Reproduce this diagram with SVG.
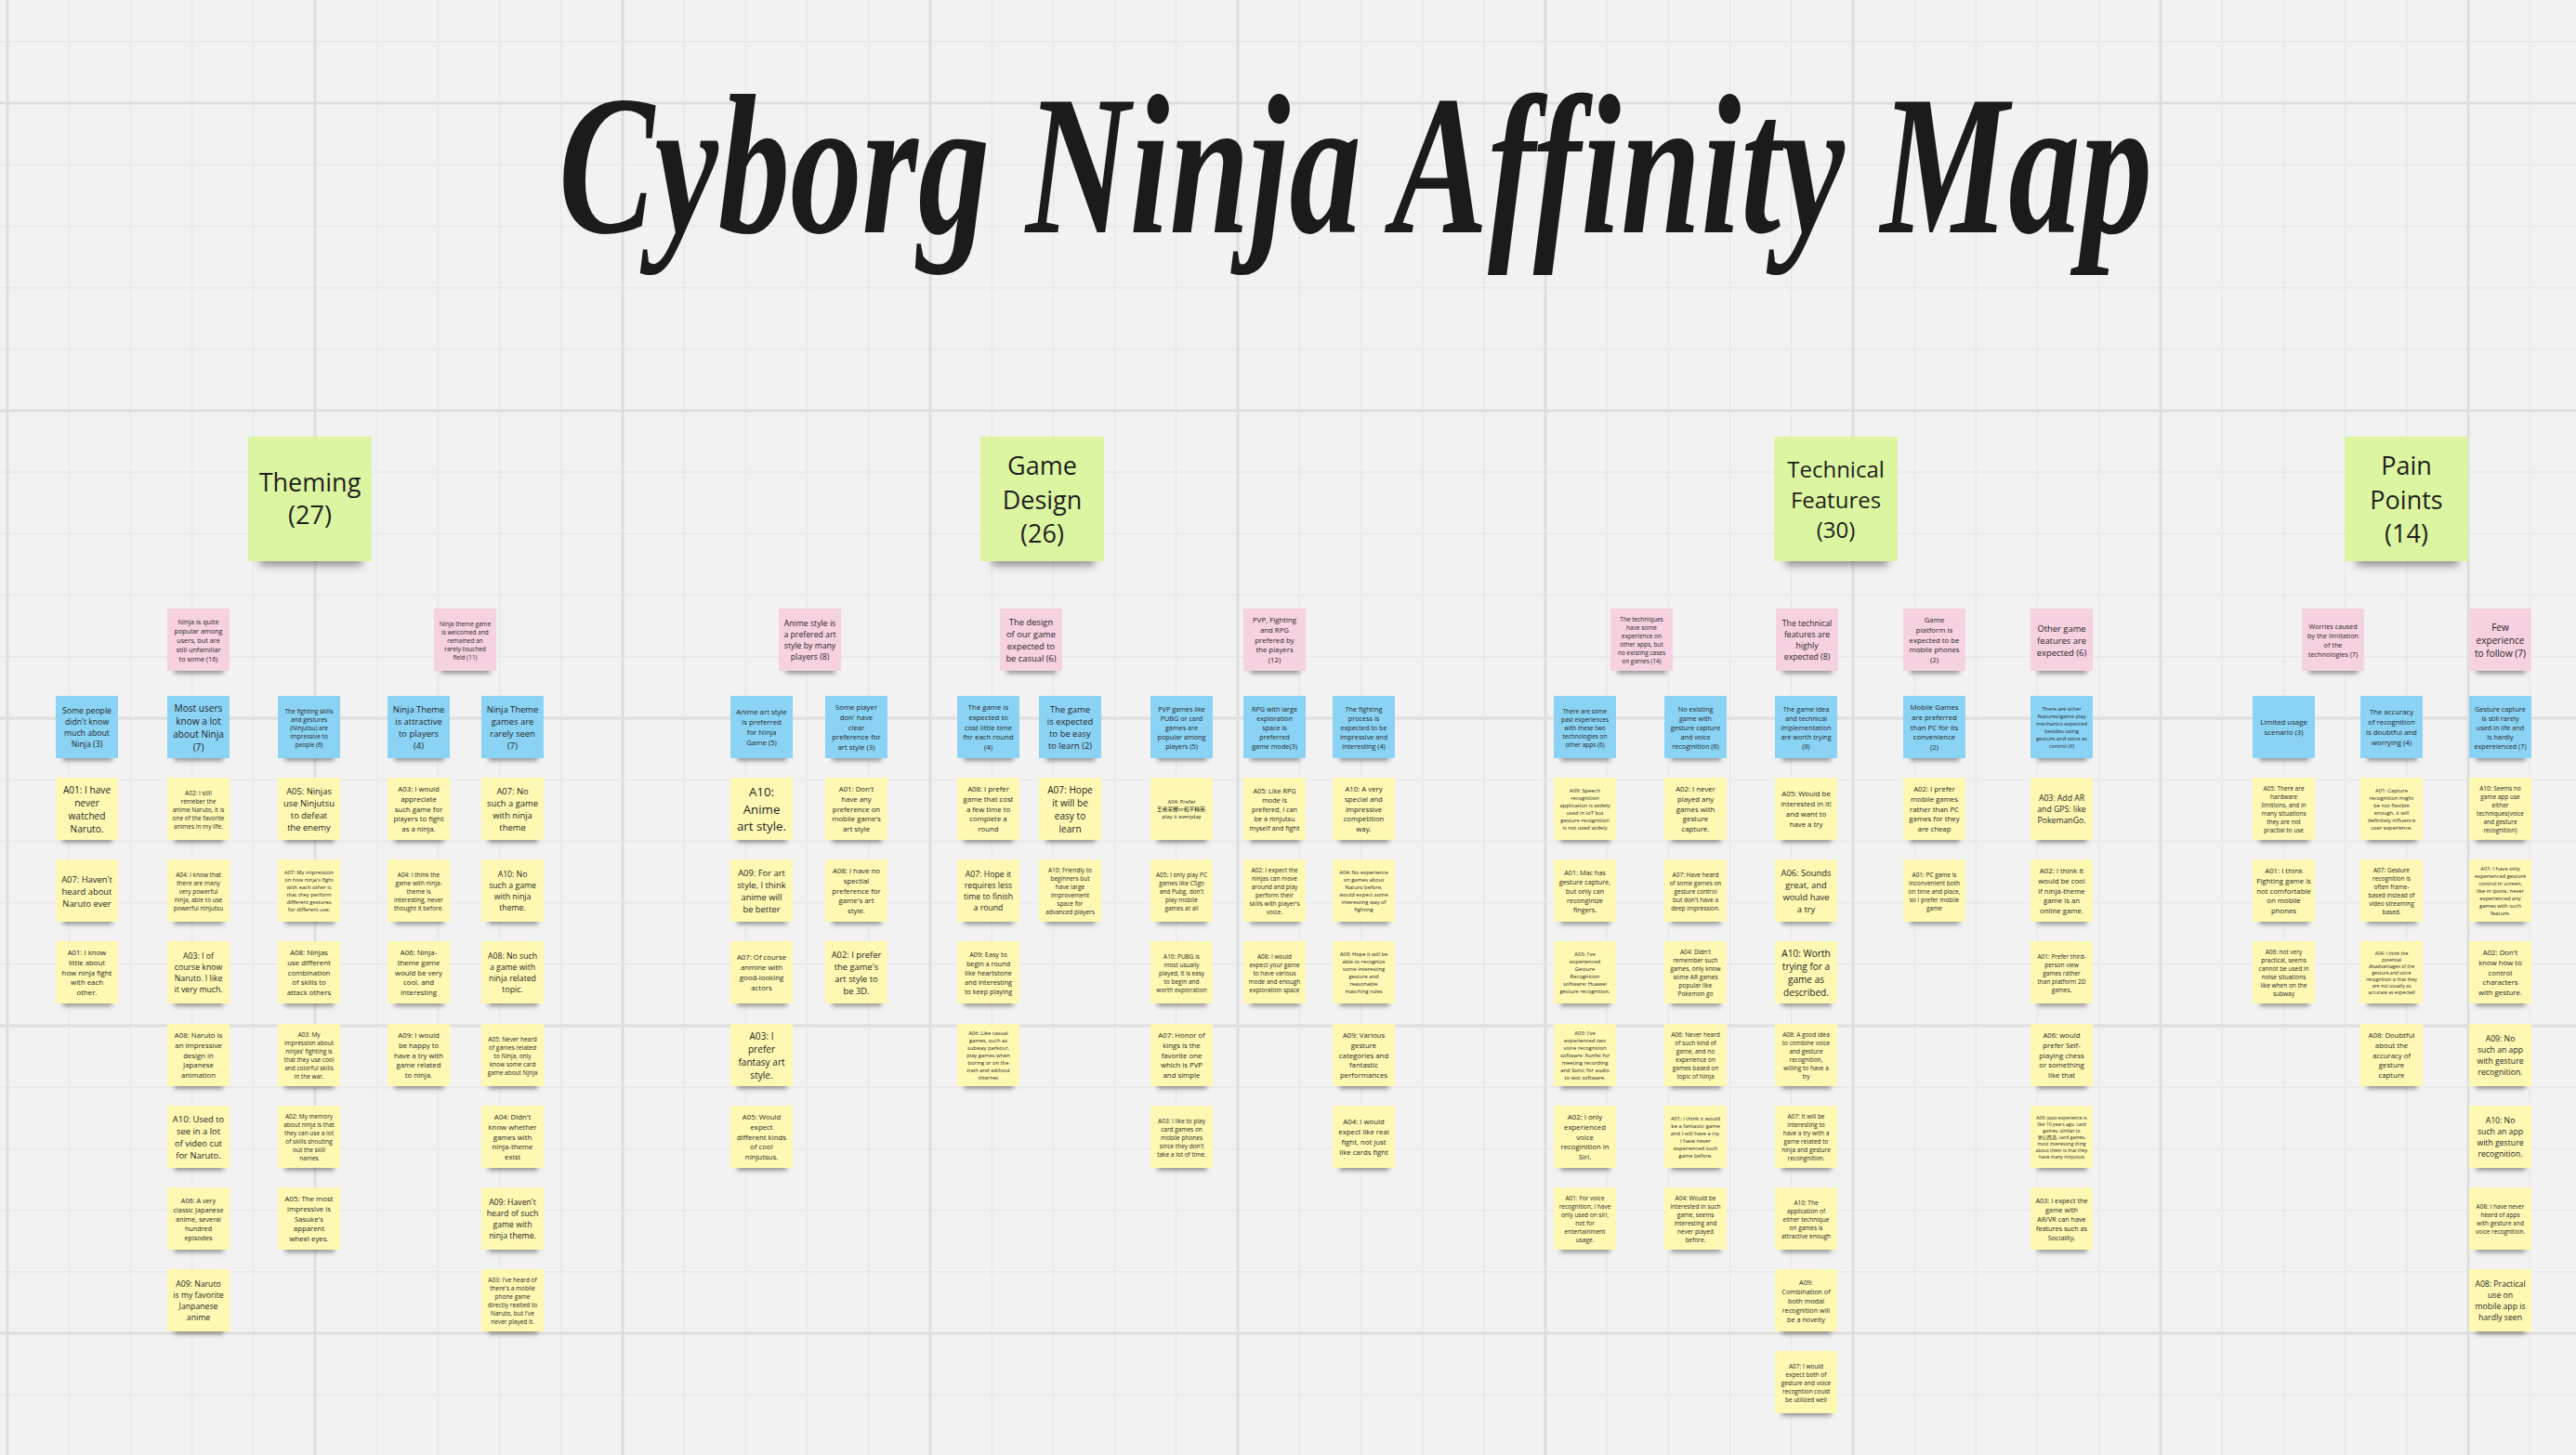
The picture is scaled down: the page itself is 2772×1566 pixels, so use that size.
<svg xmlns="http://www.w3.org/2000/svg" xmlns:xlink="http://www.w3.org/1999/xlink" width="2772" height="1566" viewBox="0 0 2772 1566">
<style>
text{font-family:"Open Sans","Noto Sans","Noto Sans CJK SC",sans-serif;text-anchor:middle;dominant-baseline:central;fill:#1f1f1f}
tspan{dominant-baseline:central}
.a{font-size:5.1px}.b{font-size:5.8px}.c{font-size:6.5px}.d{font-size:7.25px}.e{font-size:7.8px}.f{font-size:8.7px}.g{font-size:9.4px}.h{font-size:10.1px}.k{font-size:13.3px}
.hd{font-size:27px}.hd2{font-size:24px}
.title{font-family:"Liberation Serif",serif;font-style:italic;font-weight:bold;font-size:215px;fill:#1b1b1b;text-anchor:start;dominant-baseline:alphabetic}
.sh{fill:#3a3a3a;opacity:.5}
</style>
<defs>
<filter id="blur" x="-50%" y="-100%" width="200%" height="300%"><feGaussianBlur stdDeviation="2.5"/></filter>
<filter id="blur2" x="-50%" y="-100%" width="200%" height="300%"><feGaussianBlur stdDeviation="4"/></filter>
<pattern id="gm" x="7.25" y="110.25" width="66.2" height="66.2" patternUnits="userSpaceOnUse"><path d="M0.75 0V66.2M0 0.75H66.2" stroke="#e7e7e7" stroke-width="1.5" fill="none"/></pattern>
<pattern id="gM" x="6.5" y="109.5" width="331" height="331" patternUnits="userSpaceOnUse"><path d="M1.5 0V331M0 1.5H331" stroke="#dedede" stroke-width="3" fill="none"/></pattern>
<g id="Y"><rect class="sh" x="-26" y="59" width="53" height="11" filter="url(#blur)"/><rect x="-33.5" y="0" width="67" height="67" fill="#fef8b3"/></g>
<g id="B"><rect class="sh" x="-26" y="59" width="53" height="11" filter="url(#blur)"/><rect x="-33.5" y="0" width="67" height="67" fill="#8bd3f5"/></g>
<g id="P"><rect class="sh" x="-26" y="59" width="53" height="11" filter="url(#blur)"/><rect x="-33.5" y="0" width="67" height="67" fill="#f6d1e0"/></g>
<g id="H"><rect class="sh" x="-54" y="121" width="110" height="18" filter="url(#blur2)"/><rect x="-66.5" y="0" width="133" height="134" fill="#dcf5a0"/></g>
</defs>
<rect width="2772" height="1566" fill="#f2f2f2"/>
<rect width="2772" height="1566" fill="url(#gm)"/>
<rect width="2772" height="1566" fill="url(#gM)"/>
<text class="title" x="601" y="250" textLength="1715" lengthAdjust="spacingAndGlyphs">Cyborg Ninja Affinity Map</text>

<g id="headers">
<g id="hdr-theming" transform="translate(333.5,470)"><use href="#H"/><text class="hd" y="48"><tspan x="0">Theming</tspan><tspan x="0" dy="35">(27)</tspan></text></g>
<g id="hdr-game-design" transform="translate(1121.5,470)"><use href="#H"/><text class="hd" y="30"><tspan x="0">Game</tspan><tspan x="0" dy="36.5">Design</tspan><tspan x="0" dy="36.5">(26)</tspan></text></g>
<g id="hdr-technical" transform="translate(1975.5,470)"><use href="#H"/><text class="hd2" y="34"><tspan x="0">Technical</tspan><tspan x="0" dy="32.5">Features</tspan><tspan x="0" dy="32.5">(30)</tspan></text></g>
<g id="hdr-pain" transform="translate(2589.5,470)"><use href="#H"/><text class="hd" y="30"><tspan x="0">Pain</tspan><tspan x="0" dy="36.5">Points</tspan><tspan x="0" dy="36.5">(14)</tspan></text></g>
</g>

<g id="connectors"/>

<g id="theming">
<g id="th-p1" transform="translate(213.5,655)"><use href="#P"/><text class="d" y="13.5"><tspan x="0">Ninja is quite</tspan><tspan x="0" dy="10">popular among</tspan><tspan x="0" dy="10">users, but are</tspan><tspan x="0" dy="10">still unfamiliar</tspan><tspan x="0" dy="10">to some (16)</tspan></text></g>
<g id="th-p2" transform="translate(500.5,655)"><use href="#P"/><text class="c" y="15.5"><tspan x="0">Ninja theme game</tspan><tspan x="0" dy="9">is welcomed and</tspan><tspan x="0" dy="9">remained an</tspan><tspan x="0" dy="9">rarely-touched</tspan><tspan x="0" dy="9">field (11)</tspan></text></g>
<g id="th-b1" transform="translate(93.5,749)"><use href="#B"/><text class="f" y="15.5"><tspan x="0">Some people</tspan><tspan x="0" dy="12">didn't know</tspan><tspan x="0" dy="12">much about</tspan><tspan x="0" dy="12">Ninja (3)</tspan></text></g>
<g id="th-b2" transform="translate(213.5,749)"><use href="#B"/><text class="h" y="12.5"><tspan x="0">Most users</tspan><tspan x="0" dy="14">know a lot</tspan><tspan x="0" dy="14">about Ninja</tspan><tspan x="0" dy="14">(7)</tspan></text></g>
<g id="th-b3" transform="translate(332.5,749)"><use href="#B"/><text class="c" y="15.5"><tspan x="0">The fighting skills</tspan><tspan x="0" dy="9">and gestures</tspan><tspan x="0" dy="9">(Ninjutsu) are</tspan><tspan x="0" dy="9">impressive to</tspan><tspan x="0" dy="9">people (6)</tspan></text></g>
<g id="th-b4" transform="translate(450.5,749)"><use href="#B"/><text class="g" y="14"><tspan x="0">Ninja Theme</tspan><tspan x="0" dy="13">is attractive</tspan><tspan x="0" dy="13">to players</tspan><tspan x="0" dy="13">(4)</tspan></text></g>
<g id="th-b5" transform="translate(551.5,749)"><use href="#B"/><text class="g" y="14"><tspan x="0">Ninja Theme</tspan><tspan x="0" dy="13">games are</tspan><tspan x="0" dy="13">rarely seen</tspan><tspan x="0" dy="13">(7)</tspan></text></g>

<g id="th-1-1" transform="translate(93.5,837)"><use href="#Y"/><text class="h" y="12.5"><tspan x="0">A01: I have</tspan><tspan x="0" dy="14">never</tspan><tspan x="0" dy="14">watched</tspan><tspan x="0" dy="14">Naruto.</tspan></text></g>
<g id="th-1-2" transform="translate(93.5,925)"><use href="#Y"/><text class="g" y="20.5"><tspan x="0">A07: Haven't</tspan><tspan x="0" dy="13">heard about</tspan><tspan x="0" dy="13">Naruto ever</tspan></text></g>
<g id="th-1-3" transform="translate(93.5,1013)"><use href="#Y"/><text class="e" y="12.1"><tspan x="0">A01: I know</tspan><tspan x="0" dy="10.7">little about</tspan><tspan x="0" dy="10.7">how ninja fight</tspan><tspan x="0" dy="10.7">with each</tspan><tspan x="0" dy="10.7">other.</tspan></text></g>

<g id="th-2-1" transform="translate(213.5,837)"><use href="#Y"/><text class="c" y="15.5"><tspan x="0">A02: I still</tspan><tspan x="0" dy="9">remeber the</tspan><tspan x="0" dy="9">anime Naruto, it is</tspan><tspan x="0" dy="9">one of the favorite</tspan><tspan x="0" dy="9">animes in my life.</tspan></text></g>
<g id="th-2-2" transform="translate(213.5,925)"><use href="#Y"/><text class="c" y="15.5"><tspan x="0">A04: I know that</tspan><tspan x="0" dy="9">there are many</tspan><tspan x="0" dy="9">very powerful</tspan><tspan x="0" dy="9">ninja, able to use</tspan><tspan x="0" dy="9">powerful ninjutsu</tspan></text></g>
<g id="th-2-3" transform="translate(213.5,1013)"><use href="#Y"/><text class="f" y="15.5"><tspan x="0">A03: I of</tspan><tspan x="0" dy="12">course know</tspan><tspan x="0" dy="12">Naruto. I like</tspan><tspan x="0" dy="12">it very much.</tspan></text></g>
<g id="th-2-4" transform="translate(213.5,1102)"><use href="#Y"/><text class="e" y="12.1"><tspan x="0">A08: Naruto is</tspan><tspan x="0" dy="10.7">an impressive</tspan><tspan x="0" dy="10.7">design in</tspan><tspan x="0" dy="10.7">Japanese</tspan><tspan x="0" dy="10.7">animation</tspan></text></g>
<g id="th-2-5" transform="translate(213.5,1190)"><use href="#Y"/><text class="g" y="14"><tspan x="0">A10: Used to</tspan><tspan x="0" dy="13">see in a lot</tspan><tspan x="0" dy="13">of video cut</tspan><tspan x="0" dy="13">for Naruto.</tspan></text></g>
<g id="th-2-6" transform="translate(213.5,1278)"><use href="#Y"/><text class="d" y="13.5"><tspan x="0">A06: A very</tspan><tspan x="0" dy="10">classic Japanese</tspan><tspan x="0" dy="10">anime, several</tspan><tspan x="0" dy="10">hundred</tspan><tspan x="0" dy="10">episodes</tspan></text></g>
<g id="th-2-7" transform="translate(213.5,1366)"><use href="#Y"/><text class="f" y="15.5"><tspan x="0">A09: Naruto</tspan><tspan x="0" dy="12">is my favorite</tspan><tspan x="0" dy="12">Janpanese</tspan><tspan x="0" dy="12">anime</tspan></text></g>

<g id="th-3-1" transform="translate(332.5,837)"><use href="#Y"/><text class="g" y="14"><tspan x="0">A05: Ninjas</tspan><tspan x="0" dy="13">use Ninjutsu</tspan><tspan x="0" dy="13">to defeat</tspan><tspan x="0" dy="13">the enemy</tspan></text></g>
<g id="th-3-2" transform="translate(332.5,925)"><use href="#Y"/><text class="b" y="13.5"><tspan x="0">A07: My impression</tspan><tspan x="0" dy="8">on how ninja's fight</tspan><tspan x="0" dy="8">with each other is</tspan><tspan x="0" dy="8">that they perform</tspan><tspan x="0" dy="8">different gestures</tspan><tspan x="0" dy="8">for different use.</tspan></text></g>
<g id="th-3-3" transform="translate(332.5,1013)"><use href="#Y"/><text class="e" y="12.1"><tspan x="0">A08: Ninjas</tspan><tspan x="0" dy="10.7">use different</tspan><tspan x="0" dy="10.7">combination</tspan><tspan x="0" dy="10.7">of skills to</tspan><tspan x="0" dy="10.7">attack others</tspan></text></g>
<g id="th-3-4" transform="translate(332.5,1102)"><use href="#Y"/><text class="c" y="11"><tspan x="0">A03: My</tspan><tspan x="0" dy="9">impression about</tspan><tspan x="0" dy="9">ninjas' fighting is</tspan><tspan x="0" dy="9">that they use cool</tspan><tspan x="0" dy="9">and colorful skills</tspan><tspan x="0" dy="9">in the war.</tspan></text></g>
<g id="th-3-5" transform="translate(332.5,1190)"><use href="#Y"/><text class="c" y="11"><tspan x="0">A02: My memory</tspan><tspan x="0" dy="9">about ninja is that</tspan><tspan x="0" dy="9">they can use a lot</tspan><tspan x="0" dy="9">of skills shouting</tspan><tspan x="0" dy="9">out the skill</tspan><tspan x="0" dy="9">names</tspan></text></g>
<g id="th-3-6" transform="translate(332.5,1278)"><use href="#Y"/><text class="e" y="12.1"><tspan x="0">A05: The most</tspan><tspan x="0" dy="10.7">impressive is</tspan><tspan x="0" dy="10.7">Sasuke's</tspan><tspan x="0" dy="10.7">apparent</tspan><tspan x="0" dy="10.7">wheel eyes.</tspan></text></g>

<g id="th-4-1" transform="translate(450.5,837)"><use href="#Y"/><text class="e" y="12.1"><tspan x="0">A03: I would</tspan><tspan x="0" dy="10.7">appreciate</tspan><tspan x="0" dy="10.7">such game for</tspan><tspan x="0" dy="10.7">players to fight</tspan><tspan x="0" dy="10.7">as a ninja.</tspan></text></g>
<g id="th-4-2" transform="translate(450.5,925)"><use href="#Y"/><text class="c" y="15.5"><tspan x="0">A04: I think the</tspan><tspan x="0" dy="9">game with ninja-</tspan><tspan x="0" dy="9">theme is</tspan><tspan x="0" dy="9">interesting, never</tspan><tspan x="0" dy="9">thought it before.</tspan></text></g>
<g id="th-4-3" transform="translate(450.5,1013)"><use href="#Y"/><text class="e" y="12.1"><tspan x="0">A06: Ninja-</tspan><tspan x="0" dy="10.7">theme game</tspan><tspan x="0" dy="10.7">would be very</tspan><tspan x="0" dy="10.7">cool, and</tspan><tspan x="0" dy="10.7">interesting</tspan></text></g>
<g id="th-4-4" transform="translate(450.5,1102)"><use href="#Y"/><text class="e" y="12.1"><tspan x="0">A09: I would</tspan><tspan x="0" dy="10.7">be happy to</tspan><tspan x="0" dy="10.7">have a try with</tspan><tspan x="0" dy="10.7">game related</tspan><tspan x="0" dy="10.7">to ninja.</tspan></text></g>

<g id="th-5-1" transform="translate(551.5,837)"><use href="#Y"/><text class="g" y="14"><tspan x="0">A07: No</tspan><tspan x="0" dy="13">such a game</tspan><tspan x="0" dy="13">with ninja</tspan><tspan x="0" dy="13">theme</tspan></text></g>
<g id="th-5-2" transform="translate(551.5,925)"><use href="#Y"/><text class="f" y="15.5"><tspan x="0">A10: No</tspan><tspan x="0" dy="12">such a game</tspan><tspan x="0" dy="12">with ninja</tspan><tspan x="0" dy="12">theme.</tspan></text></g>
<g id="th-5-3" transform="translate(551.5,1013)"><use href="#Y"/><text class="f" y="15.5"><tspan x="0">A08: No such</tspan><tspan x="0" dy="12">a game with</tspan><tspan x="0" dy="12">ninja related</tspan><tspan x="0" dy="12">topic.</tspan></text></g>
<g id="th-5-4" transform="translate(551.5,1102)"><use href="#Y"/><text class="c" y="15.5"><tspan x="0">A05: Never heard</tspan><tspan x="0" dy="9">of games related</tspan><tspan x="0" dy="9">to Ninja, only</tspan><tspan x="0" dy="9">know some card</tspan><tspan x="0" dy="9">game about Njnja</tspan></text></g>
<g id="th-5-5" transform="translate(551.5,1190)"><use href="#Y"/><text class="e" y="12.1"><tspan x="0">A04: Didn't</tspan><tspan x="0" dy="10.7">know whether</tspan><tspan x="0" dy="10.7">games with</tspan><tspan x="0" dy="10.7">ninja-theme</tspan><tspan x="0" dy="10.7">exist</tspan></text></g>
<g id="th-5-6" transform="translate(551.5,1278)"><use href="#Y"/><text class="f" y="15.5"><tspan x="0">A09: Haven't</tspan><tspan x="0" dy="12">heard of such</tspan><tspan x="0" dy="12">game with</tspan><tspan x="0" dy="12">ninja theme.</tspan></text></g>
<g id="th-5-7" transform="translate(551.5,1366)"><use href="#Y"/><text class="c" y="11"><tspan x="0">A03: I've heard of</tspan><tspan x="0" dy="9">there's a mobile</tspan><tspan x="0" dy="9">phone game</tspan><tspan x="0" dy="9">directly realted to</tspan><tspan x="0" dy="9">Naruto, but I've</tspan><tspan x="0" dy="9">never played it.</tspan></text></g>
</g>

<g id="game-design">
<g id="gd-p1" transform="translate(871.5,655)"><use href="#P"/><text class="f" y="15.5"><tspan x="0">Anime style is</tspan><tspan x="0" dy="12">a prefered art</tspan><tspan x="0" dy="12">style by many</tspan><tspan x="0" dy="12">players (8)</tspan></text></g>
<g id="gd-p2" transform="translate(1109.5,655)"><use href="#P"/><text class="g" y="14"><tspan x="0">The design</tspan><tspan x="0" dy="13">of our game</tspan><tspan x="0" dy="13">expected to</tspan><tspan x="0" dy="13">be casual (6)</tspan></text></g>
<g id="gd-p3" transform="translate(1371.5,655)"><use href="#P"/><text class="e" y="12.1"><tspan x="0">PVP, Fighting</tspan><tspan x="0" dy="10.7">and RPG</tspan><tspan x="0" dy="10.7">prefered by</tspan><tspan x="0" dy="10.7">the players</tspan><tspan x="0" dy="10.7">(12)</tspan></text></g>

<g id="gd-b1" transform="translate(819.5,749)"><use href="#B"/><text class="e" y="17.45"><tspan x="0">Anime art style</tspan><tspan x="0" dy="10.7">is preferred</tspan><tspan x="0" dy="10.7">for Ninja</tspan><tspan x="0" dy="10.7">Game (5)</tspan></text></g>
<g id="gd-b2" transform="translate(921.5,749)"><use href="#B"/><text class="e" y="12.1"><tspan x="0">Some player</tspan><tspan x="0" dy="10.7">don' have</tspan><tspan x="0" dy="10.7">clear</tspan><tspan x="0" dy="10.7">preference for</tspan><tspan x="0" dy="10.7">art style (3)</tspan></text></g>
<g id="gd-b3" transform="translate(1063.5,749)"><use href="#B"/><text class="e" y="12.1"><tspan x="0">The game is</tspan><tspan x="0" dy="10.7">expected to</tspan><tspan x="0" dy="10.7">cost little time</tspan><tspan x="0" dy="10.7">for each round</tspan><tspan x="0" dy="10.7">(4)</tspan></text></g>
<g id="gd-b4" transform="translate(1151.5,749)"><use href="#B"/><text class="g" y="14"><tspan x="0">The game</tspan><tspan x="0" dy="13">is expected</tspan><tspan x="0" dy="13">to be easy</tspan><tspan x="0" dy="13">to learn (2)</tspan></text></g>
<g id="gd-b5" transform="translate(1271.5,749)"><use href="#B"/><text class="d" y="13.5"><tspan x="0">PVP games like</tspan><tspan x="0" dy="10">PUBG or card</tspan><tspan x="0" dy="10">games are</tspan><tspan x="0" dy="10">popular among</tspan><tspan x="0" dy="10">players (5)</tspan></text></g>
<g id="gd-b6" transform="translate(1371.5,749)"><use href="#B"/><text class="d" y="13.5"><tspan x="0">RPG with large</tspan><tspan x="0" dy="10">exploration</tspan><tspan x="0" dy="10">space is</tspan><tspan x="0" dy="10">preferred</tspan><tspan x="0" dy="10">game mode(3)</tspan></text></g>
<g id="gd-b7" transform="translate(1467.5,749)"><use href="#B"/><text class="d" y="13.5"><tspan x="0">The fighting</tspan><tspan x="0" dy="10">process is</tspan><tspan x="0" dy="10">expected to be</tspan><tspan x="0" dy="10">impressive and</tspan><tspan x="0" dy="10">interesting (4)</tspan></text></g>

<g id="gd-1-1" transform="translate(819.5,837)"><use href="#Y"/><text class="k" y="15.2"><tspan x="0">A10:</tspan><tspan x="0" dy="18.3">Anime</tspan><tspan x="0" dy="18.3">art style.</tspan></text></g>
<g id="gd-1-2" transform="translate(819.5,925)"><use href="#Y"/><text class="g" y="14"><tspan x="0">A09: For art</tspan><tspan x="0" dy="13">style, I think</tspan><tspan x="0" dy="13">anime will</tspan><tspan x="0" dy="13">be better</tspan></text></g>
<g id="gd-1-3" transform="translate(819.5,1013)"><use href="#Y"/><text class="e" y="17.45"><tspan x="0">A07: Of course</tspan><tspan x="0" dy="10.7">anmine with</tspan><tspan x="0" dy="10.7">good-looking</tspan><tspan x="0" dy="10.7">actors</tspan></text></g>
<g id="gd-1-4" transform="translate(819.5,1102)"><use href="#Y"/><text class="h" y="12.5"><tspan x="0">A03: I</tspan><tspan x="0" dy="14">prefer</tspan><tspan x="0" dy="14">fantasy art</tspan><tspan x="0" dy="14">style.</tspan></text></g>
<g id="gd-1-5" transform="translate(819.5,1190)"><use href="#Y"/><text class="e" y="12.1"><tspan x="0">A05: Would</tspan><tspan x="0" dy="10.7">expect</tspan><tspan x="0" dy="10.7">different kinds</tspan><tspan x="0" dy="10.7">of cool</tspan><tspan x="0" dy="10.7">ninjutsus.</tspan></text></g>

<g id="gd-2-1" transform="translate(921.5,837)"><use href="#Y"/><text class="e" y="12.1"><tspan x="0">A01: Don't</tspan><tspan x="0" dy="10.7">have any</tspan><tspan x="0" dy="10.7">preference on</tspan><tspan x="0" dy="10.7">mobile game's</tspan><tspan x="0" dy="10.7">art style</tspan></text></g>
<g id="gd-2-2" transform="translate(921.5,925)"><use href="#Y"/><text class="e" y="12.1"><tspan x="0">A08: I have no</tspan><tspan x="0" dy="10.7">spectial</tspan><tspan x="0" dy="10.7">preference for</tspan><tspan x="0" dy="10.7">game's art</tspan><tspan x="0" dy="10.7">style.</tspan></text></g>
<g id="gd-2-3" transform="translate(921.5,1013)"><use href="#Y"/><text class="g" y="14"><tspan x="0">A02: I prefer</tspan><tspan x="0" dy="13">the game's</tspan><tspan x="0" dy="13">art style to</tspan><tspan x="0" dy="13">be 3D.</tspan></text></g>

<g id="gd-3-1" transform="translate(1063.5,837)"><use href="#Y"/><text class="e" y="12.1"><tspan x="0">A08: I prefer</tspan><tspan x="0" dy="10.7">game that cost</tspan><tspan x="0" dy="10.7">a few time to</tspan><tspan x="0" dy="10.7">complete a</tspan><tspan x="0" dy="10.7">round</tspan></text></g>
<g id="gd-3-2" transform="translate(1063.5,925)"><use href="#Y"/><text class="f" y="15.5"><tspan x="0">A07: Hope it</tspan><tspan x="0" dy="12">requires less</tspan><tspan x="0" dy="12">time to finish</tspan><tspan x="0" dy="12">a round</tspan></text></g>
<g id="gd-3-3" transform="translate(1063.5,1013)"><use href="#Y"/><text class="d" y="13.5"><tspan x="0">A09: Easy to</tspan><tspan x="0" dy="10">begin a round</tspan><tspan x="0" dy="10">like heartstone</tspan><tspan x="0" dy="10">and interesting</tspan><tspan x="0" dy="10">to keep playing</tspan></text></g>
<g id="gd-3-4" transform="translate(1063.5,1102)"><use href="#Y"/><text class="b" y="9.5"><tspan x="0">A06: Like casual</tspan><tspan x="0" dy="8">games, such as</tspan><tspan x="0" dy="8">subway parkour,</tspan><tspan x="0" dy="8">play games when</tspan><tspan x="0" dy="8">boring or on the</tspan><tspan x="0" dy="8">train and without</tspan><tspan x="0" dy="8">internet</tspan></text></g>

<g id="gd-4-1" transform="translate(1151.5,837)"><use href="#Y"/><text class="h" y="12.5"><tspan x="0">A07: Hope</tspan><tspan x="0" dy="14">it will be</tspan><tspan x="0" dy="14">easy to</tspan><tspan x="0" dy="14">learn</tspan></text></g>
<g id="gd-4-2" transform="translate(1151.5,925)"><use href="#Y"/><text class="c" y="11"><tspan x="0">A10: Friendly to</tspan><tspan x="0" dy="9">beginners but</tspan><tspan x="0" dy="9">have large</tspan><tspan x="0" dy="9">improvement</tspan><tspan x="0" dy="9">space for</tspan><tspan x="0" dy="9">advanced players</tspan></text></g>

<g id="gd-5-1" transform="translate(1271.5,837)"><use href="#Y"/><text class="b" y="25.5"><tspan x="0">A04: Prefer</tspan><tspan x="0" dy="8">王者荣耀or和平精英,</tspan><tspan x="0" dy="8">play it everyday</tspan></text></g>
<g id="gd-5-2" transform="translate(1271.5,925)"><use href="#Y"/><text class="c" y="15.5"><tspan x="0">A05: I only play PC</tspan><tspan x="0" dy="9">games like CSgo</tspan><tspan x="0" dy="9">and Pubg, don't</tspan><tspan x="0" dy="9">play mobile</tspan><tspan x="0" dy="9">games at all</tspan></text></g>
<g id="gd-5-3" transform="translate(1271.5,1013)"><use href="#Y"/><text class="c" y="15.5"><tspan x="0">A10: PUBG is</tspan><tspan x="0" dy="9">most usually</tspan><tspan x="0" dy="9">played, it is easy</tspan><tspan x="0" dy="9">to begin and</tspan><tspan x="0" dy="9">worth exploration</tspan></text></g>
<g id="gd-5-4" transform="translate(1271.5,1102)"><use href="#Y"/><text class="e" y="12.1"><tspan x="0">A07: Honor of</tspan><tspan x="0" dy="10.7">kings is the</tspan><tspan x="0" dy="10.7">favorite one</tspan><tspan x="0" dy="10.7">which is PVP</tspan><tspan x="0" dy="10.7">and simple</tspan></text></g>
<g id="gd-5-5" transform="translate(1271.5,1190)"><use href="#Y"/><text class="c" y="15.5"><tspan x="0">A03: I like to play</tspan><tspan x="0" dy="9">card games on</tspan><tspan x="0" dy="9">mobile phones</tspan><tspan x="0" dy="9">since they don't</tspan><tspan x="0" dy="9">take a lot of time.</tspan></text></g>

<g id="gd-6-1" transform="translate(1371.5,837)"><use href="#Y"/><text class="d" y="13.5"><tspan x="0">A05: Like RPG</tspan><tspan x="0" dy="10">mode is</tspan><tspan x="0" dy="10">prefered, I can</tspan><tspan x="0" dy="10">be a ninjutsu</tspan><tspan x="0" dy="10">myself and fight</tspan></text></g>
<g id="gd-6-2" transform="translate(1371.5,925)"><use href="#Y"/><text class="c" y="11"><tspan x="0">A02: I expect the</tspan><tspan x="0" dy="9">ninjas can move</tspan><tspan x="0" dy="9">around and play</tspan><tspan x="0" dy="9">perform their</tspan><tspan x="0" dy="9">skills with player's</tspan><tspan x="0" dy="9">voice.</tspan></text></g>
<g id="gd-6-3" transform="translate(1371.5,1013)"><use href="#Y"/><text class="c" y="15.5"><tspan x="0">A08: I would</tspan><tspan x="0" dy="9">expect your game</tspan><tspan x="0" dy="9">to have various</tspan><tspan x="0" dy="9">mode and enough</tspan><tspan x="0" dy="9">exploration space</tspan></text></g>

<g id="gd-7-1" transform="translate(1467.5,837)"><use href="#Y"/><text class="e" y="12.1"><tspan x="0">A10: A very</tspan><tspan x="0" dy="10.7">special and</tspan><tspan x="0" dy="10.7">impressive</tspan><tspan x="0" dy="10.7">competition</tspan><tspan x="0" dy="10.7">way.</tspan></text></g>
<g id="gd-7-2" transform="translate(1467.5,925)"><use href="#Y"/><text class="b" y="13.5"><tspan x="0">A04: No experience</tspan><tspan x="0" dy="8">on games about</tspan><tspan x="0" dy="8">Naturo before,</tspan><tspan x="0" dy="8">would expect some</tspan><tspan x="0" dy="8">interesting way of</tspan><tspan x="0" dy="8">fighting</tspan></text></g>
<g id="gd-7-3" transform="translate(1467.5,1013)"><use href="#Y"/><text class="b" y="13.5"><tspan x="0">A09: Hope it will be</tspan><tspan x="0" dy="8">able to recognize</tspan><tspan x="0" dy="8">some interesting</tspan><tspan x="0" dy="8">gesture and</tspan><tspan x="0" dy="8">reasonable</tspan><tspan x="0" dy="8">matching rules</tspan></text></g>
<g id="gd-7-4" transform="translate(1467.5,1102)"><use href="#Y"/><text class="e" y="12.1"><tspan x="0">A09: Various</tspan><tspan x="0" dy="10.7">gesture</tspan><tspan x="0" dy="10.7">categories and</tspan><tspan x="0" dy="10.7">fantastic</tspan><tspan x="0" dy="10.7">performances</tspan></text></g>
<g id="gd-7-5" transform="translate(1467.5,1190)"><use href="#Y"/><text class="e" y="17.45"><tspan x="0">A04: I would</tspan><tspan x="0" dy="10.7">expect like real</tspan><tspan x="0" dy="10.7">fight, not just</tspan><tspan x="0" dy="10.7">like cards fight</tspan></text></g>
</g>

<g id="technical-features">
<g id="tf-p1" transform="translate(1766.5,655)"><use href="#P"/><text class="c" y="11"><tspan x="0">The techniques</tspan><tspan x="0" dy="9">have some</tspan><tspan x="0" dy="9">experience on</tspan><tspan x="0" dy="9">other apps, but</tspan><tspan x="0" dy="9">no existing cases</tspan><tspan x="0" dy="9">on games (14)</tspan></text></g>
<g id="tf-p2" transform="translate(1944.5,655)"><use href="#P"/><text class="f" y="15.5"><tspan x="0">The technical</tspan><tspan x="0" dy="12">features are</tspan><tspan x="0" dy="12">highly</tspan><tspan x="0" dy="12">expected (8)</tspan></text></g>
<g id="tf-p3" transform="translate(2081.5,655)"><use href="#P"/><text class="e" y="12.1"><tspan x="0">Game</tspan><tspan x="0" dy="10.7">platform is</tspan><tspan x="0" dy="10.7">expected to be</tspan><tspan x="0" dy="10.7">mobile phones</tspan><tspan x="0" dy="10.7">(2)</tspan></text></g>
<g id="tf-p4" transform="translate(2218.5,655)"><use href="#P"/><text class="g" y="20.5"><tspan x="0">Other game</tspan><tspan x="0" dy="13">features are</tspan><tspan x="0" dy="13">expected (6)</tspan></text></g>

<g id="tf-b1" transform="translate(1705.5,749)"><use href="#B"/><text class="c" y="15.5"><tspan x="0">There are some</tspan><tspan x="0" dy="9">past experiences</tspan><tspan x="0" dy="9">with these two</tspan><tspan x="0" dy="9">technologies on</tspan><tspan x="0" dy="9">other apps (6)</tspan></text></g>
<g id="tf-b2" transform="translate(1824.5,749)"><use href="#B"/><text class="d" y="13.5"><tspan x="0">No existing</tspan><tspan x="0" dy="10">game with</tspan><tspan x="0" dy="10">gesture capture</tspan><tspan x="0" dy="10">and voice</tspan><tspan x="0" dy="10">recoginition (6)</tspan></text></g>
<g id="tf-b3" transform="translate(1943.5,749)"><use href="#B"/><text class="d" y="13.5"><tspan x="0">The game idea</tspan><tspan x="0" dy="10">and technical</tspan><tspan x="0" dy="10">implementation</tspan><tspan x="0" dy="10">are worth trying</tspan><tspan x="0" dy="10">(8)</tspan></text></g>
<g id="tf-b4" transform="translate(2081.5,749)"><use href="#B"/><text class="e" y="12.1"><tspan x="0">Mobile Games</tspan><tspan x="0" dy="10.7">are preferred</tspan><tspan x="0" dy="10.7">than PC for its</tspan><tspan x="0" dy="10.7">convenience</tspan><tspan x="0" dy="10.7">(2)</tspan></text></g>
<g id="tf-b5" transform="translate(2218.5,749)"><use href="#B"/><text class="b" y="13.5"><tspan x="0">There are other</tspan><tspan x="0" dy="8">features/game play</tspan><tspan x="0" dy="8">mechanics expected</tspan><tspan x="0" dy="8">besides using</tspan><tspan x="0" dy="8">gesture and voice as</tspan><tspan x="0" dy="8">control (6)</tspan></text></g>

<g id="tf-1-1" transform="translate(1705.5,837)"><use href="#Y"/><text class="b" y="13.5"><tspan x="0">A09: Speech</tspan><tspan x="0" dy="8">recognition</tspan><tspan x="0" dy="8">application is widely</tspan><tspan x="0" dy="8">used in IoT but</tspan><tspan x="0" dy="8">gesture recognition</tspan><tspan x="0" dy="8">is not used widely</tspan></text></g>
<g id="tf-1-2" transform="translate(1705.5,925)"><use href="#Y"/><text class="d" y="13.5"><tspan x="0">A01: Mac has</tspan><tspan x="0" dy="10">gesture capture,</tspan><tspan x="0" dy="10">but only can</tspan><tspan x="0" dy="10">reconginize</tspan><tspan x="0" dy="10">fingers.</tspan></text></g>
<g id="tf-1-3" transform="translate(1705.5,1013)"><use href="#Y"/><text class="b" y="13.5"><tspan x="0">A03: I've</tspan><tspan x="0" dy="8">experienced</tspan><tspan x="0" dy="8">Gesture</tspan><tspan x="0" dy="8">Recognition</tspan><tspan x="0" dy="8">software: Huawei</tspan><tspan x="0" dy="8">gesture recognition.</tspan></text></g>
<g id="tf-1-4" transform="translate(1705.5,1102)"><use href="#Y"/><text class="b" y="9.5"><tspan x="0">A03: I've</tspan><tspan x="0" dy="8">experienced two</tspan><tspan x="0" dy="8">voice recognition</tspan><tspan x="0" dy="8">software: Xunfei for</tspan><tspan x="0" dy="8">meeting recording</tspan><tspan x="0" dy="8">and Sonic for audio</tspan><tspan x="0" dy="8">to text software.</tspan></text></g>
<g id="tf-1-5" transform="translate(1705.5,1190)"><use href="#Y"/><text class="e" y="12.1"><tspan x="0">A02: I only</tspan><tspan x="0" dy="10.7">experienced</tspan><tspan x="0" dy="10.7">voice</tspan><tspan x="0" dy="10.7">recoginition in</tspan><tspan x="0" dy="10.7">Siri.</tspan></text></g>
<g id="tf-1-6" transform="translate(1705.5,1278)"><use href="#Y"/><text class="c" y="11"><tspan x="0">A01: For voice</tspan><tspan x="0" dy="9">recognition, I have</tspan><tspan x="0" dy="9">only used on siri,</tspan><tspan x="0" dy="9">not for</tspan><tspan x="0" dy="9">entertainment</tspan><tspan x="0" dy="9">usage.</tspan></text></g>

<g id="tf-2-1" transform="translate(1824.5,837)"><use href="#Y"/><text class="e" y="12.1"><tspan x="0">A02: I never</tspan><tspan x="0" dy="10.7">played any</tspan><tspan x="0" dy="10.7">games with</tspan><tspan x="0" dy="10.7">gesture</tspan><tspan x="0" dy="10.7">capture.</tspan></text></g>
<g id="tf-2-2" transform="translate(1824.5,925)"><use href="#Y"/><text class="c" y="15.5"><tspan x="0">A07: Have heard</tspan><tspan x="0" dy="9">of some games on</tspan><tspan x="0" dy="9">gesture control</tspan><tspan x="0" dy="9">but don't have a</tspan><tspan x="0" dy="9">deep impression.</tspan></text></g>
<g id="tf-2-3" transform="translate(1824.5,1013)"><use href="#Y"/><text class="c" y="11"><tspan x="0">A04: Didn't</tspan><tspan x="0" dy="9">remember such</tspan><tspan x="0" dy="9">games, only know</tspan><tspan x="0" dy="9">some AR games</tspan><tspan x="0" dy="9">popular like</tspan><tspan x="0" dy="9">Pokemon go</tspan></text></g>
<g id="tf-2-4" transform="translate(1824.5,1102)"><use href="#Y"/><text class="c" y="11"><tspan x="0">A06: Never heard</tspan><tspan x="0" dy="9">of such kind of</tspan><tspan x="0" dy="9">game, and no</tspan><tspan x="0" dy="9">experience on</tspan><tspan x="0" dy="9">games based on</tspan><tspan x="0" dy="9">topic of Ninja</tspan></text></g>
<g id="tf-2-5" transform="translate(1824.5,1190)"><use href="#Y"/><text class="b" y="13.5"><tspan x="0">A01: I think it would</tspan><tspan x="0" dy="8">be a fantastic game</tspan><tspan x="0" dy="8">and I will have a try.</tspan><tspan x="0" dy="8">I have never</tspan><tspan x="0" dy="8">experienced such</tspan><tspan x="0" dy="8">game before.</tspan></text></g>
<g id="tf-2-6" transform="translate(1824.5,1278)"><use href="#Y"/><text class="c" y="11"><tspan x="0">A04: Would be</tspan><tspan x="0" dy="9">interested in such</tspan><tspan x="0" dy="9">game, seems</tspan><tspan x="0" dy="9">interesting and</tspan><tspan x="0" dy="9">never played</tspan><tspan x="0" dy="9">before.</tspan></text></g>

<g id="tf-3-1" transform="translate(1943.5,837)"><use href="#Y"/><text class="e" y="17.45"><tspan x="0">A05: Would be</tspan><tspan x="0" dy="10.7">interested in it!</tspan><tspan x="0" dy="10.7">and want to</tspan><tspan x="0" dy="10.7">have a try</tspan></text></g>
<g id="tf-3-2" transform="translate(1943.5,925)"><use href="#Y"/><text class="g" y="14"><tspan x="0">A06: Sounds</tspan><tspan x="0" dy="13">great, and</tspan><tspan x="0" dy="13">would have</tspan><tspan x="0" dy="13">a try</tspan></text></g>
<g id="tf-3-3" transform="translate(1943.5,1013)"><use href="#Y"/><text class="h" y="12.5"><tspan x="0">A10: Worth</tspan><tspan x="0" dy="14">trying for a</tspan><tspan x="0" dy="14">game as</tspan><tspan x="0" dy="14">described.</tspan></text></g>
<g id="tf-3-4" transform="translate(1943.5,1102)"><use href="#Y"/><text class="c" y="11"><tspan x="0">A08: A good idea</tspan><tspan x="0" dy="9">to combine voice</tspan><tspan x="0" dy="9">and gesture</tspan><tspan x="0" dy="9">recognition,</tspan><tspan x="0" dy="9">willing to have a</tspan><tspan x="0" dy="9">try</tspan></text></g>
<g id="tf-3-5" transform="translate(1943.5,1190)"><use href="#Y"/><text class="c" y="11"><tspan x="0">A07: It will be</tspan><tspan x="0" dy="9">interesting to</tspan><tspan x="0" dy="9">have a try with a</tspan><tspan x="0" dy="9">game related to</tspan><tspan x="0" dy="9">ninja and gesture</tspan><tspan x="0" dy="9">recongnition.</tspan></text></g>
<g id="tf-3-6" transform="translate(1943.5,1278)"><use href="#Y"/><text class="c" y="15.5"><tspan x="0">A10: The</tspan><tspan x="0" dy="9">application of</tspan><tspan x="0" dy="9">either technique</tspan><tspan x="0" dy="9">on games is</tspan><tspan x="0" dy="9">attractive enough</tspan></text></g>
<g id="tf-3-7" transform="translate(1943.5,1366)"><use href="#Y"/><text class="d" y="13.5"><tspan x="0">A09:</tspan><tspan x="0" dy="10">Combination of</tspan><tspan x="0" dy="10">both modal</tspan><tspan x="0" dy="10">recognition will</tspan><tspan x="0" dy="10">be a novelty</tspan></text></g>
<g id="tf-3-8" transform="translate(1943.5,1454)"><use href="#Y"/><text class="c" y="15.5"><tspan x="0">A07: I would</tspan><tspan x="0" dy="9">expect both of</tspan><tspan x="0" dy="9">gesture and voice</tspan><tspan x="0" dy="9">recogntion could</tspan><tspan x="0" dy="9">be utilized well</tspan></text></g>

<g id="tf-4-1" transform="translate(2081.5,837)"><use href="#Y"/><text class="e" y="12.1"><tspan x="0">A02: I prefer</tspan><tspan x="0" dy="10.7">mobile games</tspan><tspan x="0" dy="10.7">rather than PC</tspan><tspan x="0" dy="10.7">games for they</tspan><tspan x="0" dy="10.7">are cheap</tspan></text></g>
<g id="tf-4-2" transform="translate(2081.5,925)"><use href="#Y"/><text class="c" y="15.5"><tspan x="0">A01: PC game is</tspan><tspan x="0" dy="9">inconvenient both</tspan><tspan x="0" dy="9">on time and place,</tspan><tspan x="0" dy="9">so I prefer mobile</tspan><tspan x="0" dy="9">game</tspan></text></g>

<g id="tf-5-1" transform="translate(2218.5,837)"><use href="#Y"/><text class="f" y="21.5"><tspan x="0">A03: Add AR</tspan><tspan x="0" dy="12">and GPS: like</tspan><tspan x="0" dy="12">PokemanGo.</tspan></text></g>
<g id="tf-5-2" transform="translate(2218.5,925)"><use href="#Y"/><text class="e" y="12.1"><tspan x="0">A02: I think it</tspan><tspan x="0" dy="10.7">would be cool</tspan><tspan x="0" dy="10.7">if ninja-theme</tspan><tspan x="0" dy="10.7">game is an</tspan><tspan x="0" dy="10.7">online game.</tspan></text></g>
<g id="tf-5-3" transform="translate(2218.5,1013)"><use href="#Y"/><text class="c" y="15.5"><tspan x="0">A01: Prefer third-</tspan><tspan x="0" dy="9">person view</tspan><tspan x="0" dy="9">games rather</tspan><tspan x="0" dy="9">than platform 2D</tspan><tspan x="0" dy="9">games.</tspan></text></g>
<g id="tf-5-4" transform="translate(2218.5,1102)"><use href="#Y"/><text class="e" y="12.1"><tspan x="0">A06: would</tspan><tspan x="0" dy="10.7">prefer Self-</tspan><tspan x="0" dy="10.7">playing chess</tspan><tspan x="0" dy="10.7">or something</tspan><tspan x="0" dy="10.7">like that</tspan></text></g>
<g id="tf-5-5" transform="translate(2218.5,1190)"><use href="#Y"/><text class="a" y="12.5"><tspan x="0">A06: past experience is</tspan><tspan x="0" dy="7">like 10 years ago, card</tspan><tspan x="0" dy="7">games, similar to</tspan><tspan x="0" dy="7">梦幻西游, card games,</tspan><tspan x="0" dy="7">most interesting thing</tspan><tspan x="0" dy="7">about them is that they</tspan><tspan x="0" dy="7">have many ninjutsus</tspan></text></g>
<g id="tf-5-6" transform="translate(2218.5,1278)"><use href="#Y"/><text class="d" y="13.5"><tspan x="0">A03: I expect the</tspan><tspan x="0" dy="10">game with</tspan><tspan x="0" dy="10">AR/VR can have</tspan><tspan x="0" dy="10">features such as</tspan><tspan x="0" dy="10">Sociality.</tspan></text></g>
</g>

<g id="pain-points">
<g id="pp-p1" transform="translate(2510.5,655)"><use href="#P"/><text class="d" y="18.5"><tspan x="0">Worries caused</tspan><tspan x="0" dy="10">by the limitation</tspan><tspan x="0" dy="10">of the</tspan><tspan x="0" dy="10">technologies (7)</tspan></text></g>
<g id="pp-p2" transform="translate(2690.5,655)"><use href="#P"/><text class="h" y="19.5"><tspan x="0">Few</tspan><tspan x="0" dy="14">experience</tspan><tspan x="0" dy="14">to follow (7)</tspan></text></g>

<g id="pp-b1" transform="translate(2457.5,749)"><use href="#B"/><text class="e" y="28.15"><tspan x="0">Limited usage</tspan><tspan x="0" dy="10.7">scenario (3)</tspan></text></g>
<g id="pp-b2" transform="translate(2573.5,749)"><use href="#B"/><text class="e" y="17.45"><tspan x="0">The accuracy</tspan><tspan x="0" dy="10.7">of recognition</tspan><tspan x="0" dy="10.7">is doubtful and</tspan><tspan x="0" dy="10.7">worrying (4)</tspan></text></g>
<g id="pp-b3" transform="translate(2690.5,749)"><use href="#B"/><text class="d" y="13.5"><tspan x="0">Gesture capture</tspan><tspan x="0" dy="10">is still rarely</tspan><tspan x="0" dy="10">used in life and</tspan><tspan x="0" dy="10">is hardly</tspan><tspan x="0" dy="10">expereienced (7)</tspan></text></g>

<g id="pp-1-1" transform="translate(2457.5,837)"><use href="#Y"/><text class="c" y="11"><tspan x="0">A05: There are</tspan><tspan x="0" dy="9">hardware</tspan><tspan x="0" dy="9">limitions, and in</tspan><tspan x="0" dy="9">many situations</tspan><tspan x="0" dy="9">they are not</tspan><tspan x="0" dy="9">practial to use</tspan></text></g>
<g id="pp-1-2" transform="translate(2457.5,925)"><use href="#Y"/><text class="e" y="12.1"><tspan x="0">A01: I think</tspan><tspan x="0" dy="10.7">Fighting game is</tspan><tspan x="0" dy="10.7">not comfortable</tspan><tspan x="0" dy="10.7">on mobile</tspan><tspan x="0" dy="10.7">phones</tspan></text></g>
<g id="pp-1-3" transform="translate(2457.5,1013)"><use href="#Y"/><text class="c" y="11"><tspan x="0">A06: not very</tspan><tspan x="0" dy="9">practical, seems</tspan><tspan x="0" dy="9">cannot be used in</tspan><tspan x="0" dy="9">noise situations</tspan><tspan x="0" dy="9">like when on the</tspan><tspan x="0" dy="9">subway</tspan></text></g>

<g id="pp-2-1" transform="translate(2573.5,837)"><use href="#Y"/><text class="b" y="13.5"><tspan x="0">A01: Capture</tspan><tspan x="0" dy="8">recognition might</tspan><tspan x="0" dy="8">be not flexible</tspan><tspan x="0" dy="8">enough, it will</tspan><tspan x="0" dy="8">definitely influence</tspan><tspan x="0" dy="8">user experience.</tspan></text></g>
<g id="pp-2-2" transform="translate(2573.5,925)"><use href="#Y"/><text class="c" y="11"><tspan x="0">A07: Gesture</tspan><tspan x="0" dy="9">recognition is</tspan><tspan x="0" dy="9">often frame-</tspan><tspan x="0" dy="9">based instead of</tspan><tspan x="0" dy="9">video streaming</tspan><tspan x="0" dy="9">based.</tspan></text></g>
<g id="pp-2-3" transform="translate(2573.5,1013)"><use href="#Y"/><text class="a" y="12.5"><tspan x="0">A04: I think the</tspan><tspan x="0" dy="7">potential</tspan><tspan x="0" dy="7">disadvantages of the</tspan><tspan x="0" dy="7">gesture and voice</tspan><tspan x="0" dy="7">recognition is that they</tspan><tspan x="0" dy="7">are not usually as</tspan><tspan x="0" dy="7">accurate as expected</tspan></text></g>
<g id="pp-2-4" transform="translate(2573.5,1102)"><use href="#Y"/><text class="e" y="12.1"><tspan x="0">A08: Doubtful</tspan><tspan x="0" dy="10.7">about the</tspan><tspan x="0" dy="10.7">accuracy of</tspan><tspan x="0" dy="10.7">gesture</tspan><tspan x="0" dy="10.7">capture</tspan></text></g>

<g id="pp-3-1" transform="translate(2690.5,837)"><use href="#Y"/><text class="c" y="11"><tspan x="0">A10: Seems no</tspan><tspan x="0" dy="9">game app use</tspan><tspan x="0" dy="9">either</tspan><tspan x="0" dy="9">techniques(voice</tspan><tspan x="0" dy="9">and gesture</tspan><tspan x="0" dy="9">recognition)</tspan></text></g>
<g id="pp-3-2" transform="translate(2690.5,925)"><use href="#Y"/><text class="b" y="9.5"><tspan x="0">A01: I have only</tspan><tspan x="0" dy="8">experienced gesture</tspan><tspan x="0" dy="8">control in screen,</tspan><tspan x="0" dy="8">like in ipone, never</tspan><tspan x="0" dy="8">experienced any</tspan><tspan x="0" dy="8">games with such</tspan><tspan x="0" dy="8">feature.</tspan></text></g>
<g id="pp-3-3" transform="translate(2690.5,1013)"><use href="#Y"/><text class="e" y="12.1"><tspan x="0">A02: Don't</tspan><tspan x="0" dy="10.7">know how to</tspan><tspan x="0" dy="10.7">control</tspan><tspan x="0" dy="10.7">characters</tspan><tspan x="0" dy="10.7">with gesture.</tspan></text></g>
<g id="pp-3-4" transform="translate(2690.5,1102)"><use href="#Y"/><text class="f" y="15.5"><tspan x="0">A09: No</tspan><tspan x="0" dy="12">such an app</tspan><tspan x="0" dy="12">with gesture</tspan><tspan x="0" dy="12">recognition.</tspan></text></g>
<g id="pp-3-5" transform="translate(2690.5,1190)"><use href="#Y"/><text class="f" y="15.5"><tspan x="0">A10: No</tspan><tspan x="0" dy="12">such an app</tspan><tspan x="0" dy="12">with gesture</tspan><tspan x="0" dy="12">recognition.</tspan></text></g>
<g id="pp-3-6" transform="translate(2690.5,1278)"><use href="#Y"/><text class="c" y="20"><tspan x="0">A08: I have never</tspan><tspan x="0" dy="9">heard of apps</tspan><tspan x="0" dy="9">with gesture and</tspan><tspan x="0" dy="9">voice recognition.</tspan></text></g>
<g id="pp-3-7" transform="translate(2690.5,1366)"><use href="#Y"/><text class="f" y="15.5"><tspan x="0">A08: Practical</tspan><tspan x="0" dy="12">use on</tspan><tspan x="0" dy="12">mobile app is</tspan><tspan x="0" dy="12">hardly seen</tspan></text></g>
</g>
</svg>
